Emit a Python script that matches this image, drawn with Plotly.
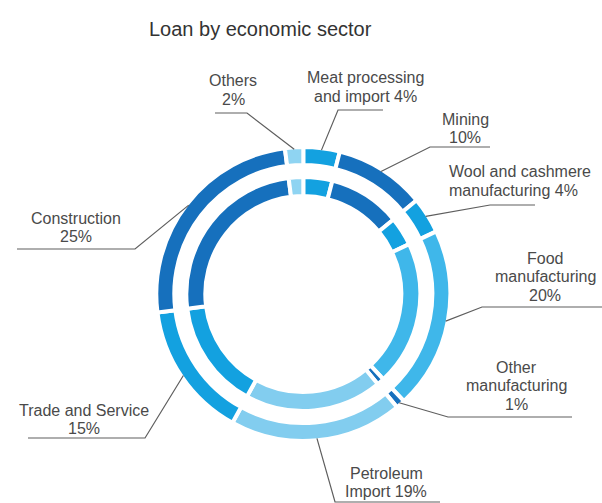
import math
import plotly.graph_objects as go

# Loan portfolio by economic sector (share of total, %), clockwise from 12 o'clock
sectors = [
    "Meat processing and import",
    "Mining",
    "Wool and cashmere manufacturing",
    "Food manufacturing",
    "Other manufacturing",
    "Petroleum Import",
    "Trade and Service",
    "Construction",
    "Others",
]
share_outer = [4, 10, 4, 20, 1, 19, 15, 25, 2]
share_inner = [4, 10, 4, 20, 1, 19, 15, 25, 2]

label_lines = [
    ["Meat processing", "and import 4%"],
    ["Mining", "10%"],
    ["Wool and cashmere", "manufacturing 4%"],
    ["Food", "manufacturing", "20%"],
    ["Other", "manufacturing", "1%"],
    ["Petroleum", "Import 19%"],
    ["Trade and Service", "15%"],
    ["Construction", "25%"],
    ["Others", "2%"],
]

colors = ["#13a1e0", "#1670bd", "#13a1e0", "#3fb7ea", "#1670bd",
          "#82cdef", "#13a1e0", "#1670bd", "#8fd4f2"]

W, H = 602, 503
CX, CY = 303.3, 294.0          # ring centre in pixels (from top-left)
GAP = 4                         # white separator between slices
R_OUT, R_OUT_IN = 145, 131      # outer ring visible radii
R_IN, R_IN_IN = 115, 100        # inner ring visible radii
LINE_STEP = 18.5                # spacing between label lines
FONT = "Arial, Liberation Sans, sans-serif"


def px(x, y):
    """Pixel position (top-left origin) -> paper coordinates."""
    return x / W, 1 - y / H


def domain(r):
    r = r + GAP / 2
    x0, y0 = px(CX - r, CY + r)
    x1, y1 = px(CX + r, CY - r)
    return dict(x=[x0, x1], y=[y0, y1])


def ring(values, r_outer, r_inner, name):
    return go.Pie(
        labels=sectors, values=values, name=name,
        sort=False, direction="clockwise", rotation=0,
        hole=(r_inner - GAP / 2) / (r_outer + GAP / 2),
        domain=domain(r_outer),
        marker=dict(colors=colors, line=dict(color="white", width=GAP)),
        textinfo="none", hoverinfo="label+percent", showlegend=False,
    )


fig = go.Figure([ring(share_outer, R_OUT, R_OUT_IN, "outer"),
                 ring(share_inner, R_IN, R_IN_IN, "inner")])

# label x, first text line y, alignment, leader elbow and far end of leader
label_pos = [
    dict(x=365, y=78, align="center", elbow=(338, 110), end=(383, 110)),
    dict(x=465, y=119, align="center", elbow=(430, 147), end=(490, 147)),
    dict(x=447, y=172, align="left", elbow=(490, 205), end=(535, 205)),
    dict(x=545, y=258, align="center", elbow=(482, 307), end=(602, 307)),
    dict(x=516, y=367, align="center", elbow=(448, 417), end=(572, 417)),
    dict(x=386, y=473, align="center", elbow=(335, 502), end=(440, 502)),
    dict(x=84, y=410, align="center", elbow=(145, 438), end=(28, 438)),
    dict(x=76, y=218, align="center", elbow=(135, 249), end=(17, 249)),
    dict(x=233, y=81, align="center", elbow=(247, 113), end=(215, 113)),
]

total = sum(share_outer)
cum = 0
shapes, annotations = [], []
for val, lines, pos in zip(share_outer, label_lines, label_pos):
    mid = (cum + val / 2) / total * 2 * math.pi
    cum += val
    ax = CX + R_OUT * math.sin(mid)
    ay = CY - R_OUT * math.cos(mid)
    pts = [(ax, ay), pos["elbow"], pos["end"]]
    path = "M " + " L ".join("{:.4f},{:.4f}".format(*px(x, y)) for x, y in pts)
    shapes.append(dict(type="path", path=path, xref="paper", yref="paper",
                       line=dict(color="#5e5e5e", width=1.2)))
    for i, line in enumerate(lines):
        tx, ty = px(pos["x"], pos["y"] + i * LINE_STEP)
        annotations.append(dict(
            text=line, x=tx, y=ty, xref="paper", yref="paper", showarrow=False,
            xanchor="left" if pos["align"] == "left" else "center",
            yanchor="middle",
            font=dict(family=FONT, size=16, color="#4a4a4a"),
        ))

tx, ty = px(260, 29)
annotations.append(dict(
    text="Loan by economic sector", x=tx, y=ty, xref="paper", yref="paper",
    showarrow=False, xanchor="center", yanchor="middle",
    font=dict(family=FONT, size=20, color="#333333"),
))

fig.update_layout(
    width=W, height=H, margin=dict(l=0, r=0, t=0, b=0),
    paper_bgcolor="white", plot_bgcolor="white",
    shapes=shapes, annotations=annotations,
)

fig.write_html("out.html")
